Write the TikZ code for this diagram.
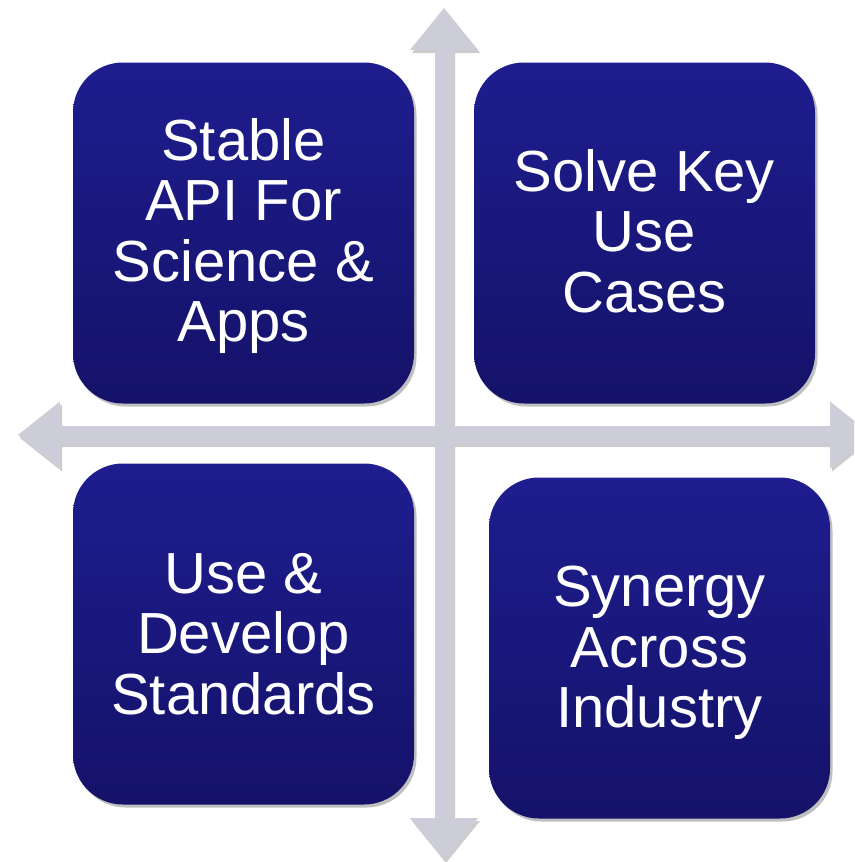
\documentclass[tikz,border=0pt]{standalone}
\usepackage{fontspec}
\setmainfont{Liberation Sans}
\usetikzlibrary{shadows}
\definecolor{boxtop}{RGB}{31,29,143}
\definecolor{boxbot}{RGB}{20,18,104}
\definecolor{arrowgray}{RGB}{205,205,218}
\tikzset{
  quad/.style={rounded corners=50pt, minimum width=341pt, minimum height=341pt,
    inner sep=0pt, top color=boxtop, bottom color=boxbot,
    drop shadow={shadow xshift=2.5pt, shadow yshift=-3pt, opacity=0.25, fill=black}},
  quadtext/.style={text=white, align=center, inner sep=0pt,
    font=\fontsize{58}{60.5}\selectfont},
  axisarrow/.style={fill=arrowgray,
    drop shadow={shadow xshift=2pt, shadow yshift=-3pt, opacity=0.2, fill=black}}
}
\begin{document}
\begin{tikzpicture}[x=1pt,y=-1pt]
\useasboundingbox (0,0) rectangle (854,862);
\clip (0,0) rectangle (854,862);
% axes (one path, so the crossing is seamless)
\coordinate (top) at (444,8);
\coordinate (bottom) at (444,860);
\coordinate (left) at (18,435);
\coordinate (right) at (872,435);
\path[axisarrow] (top) -- (478,50) -- (453,50) -- (453,818) -- (478,818) -- (bottom)
  -- (410,818) -- (435,818) -- (435,50) -- (410,50) -- cycle
  (left) -- (60,401.5) -- (60,426) -- (830,426) -- (830,401.5) -- (right)
  -- (830,468.5) -- (830,444) -- (60,444) -- (60,468.5) -- cycle;
% quadrants
\node[quad] (tl) at (243.5,233) {};
\node[quad] (tr) at (644.5,233) {};
\node[quad] (bl) at (243.5,634) {};
\node[quad] (br) at (659.5,648) {};
\node[quadtext, yshift=-3pt] (tlt) at (tl) {Stable\\API For\\Science \&\\Apps};
\node[quadtext, yshift=2pt] (trt) at (tr) {Solve Key\\Use\\Cases};
\node[quadtext] (blt) at (bl) {Use \&\\Develop\\Standards};
\node[quadtext, yshift=-5pt] (brt) at (br) {Synergy\\Across\\Industry};
\end{tikzpicture}
\end{document}
